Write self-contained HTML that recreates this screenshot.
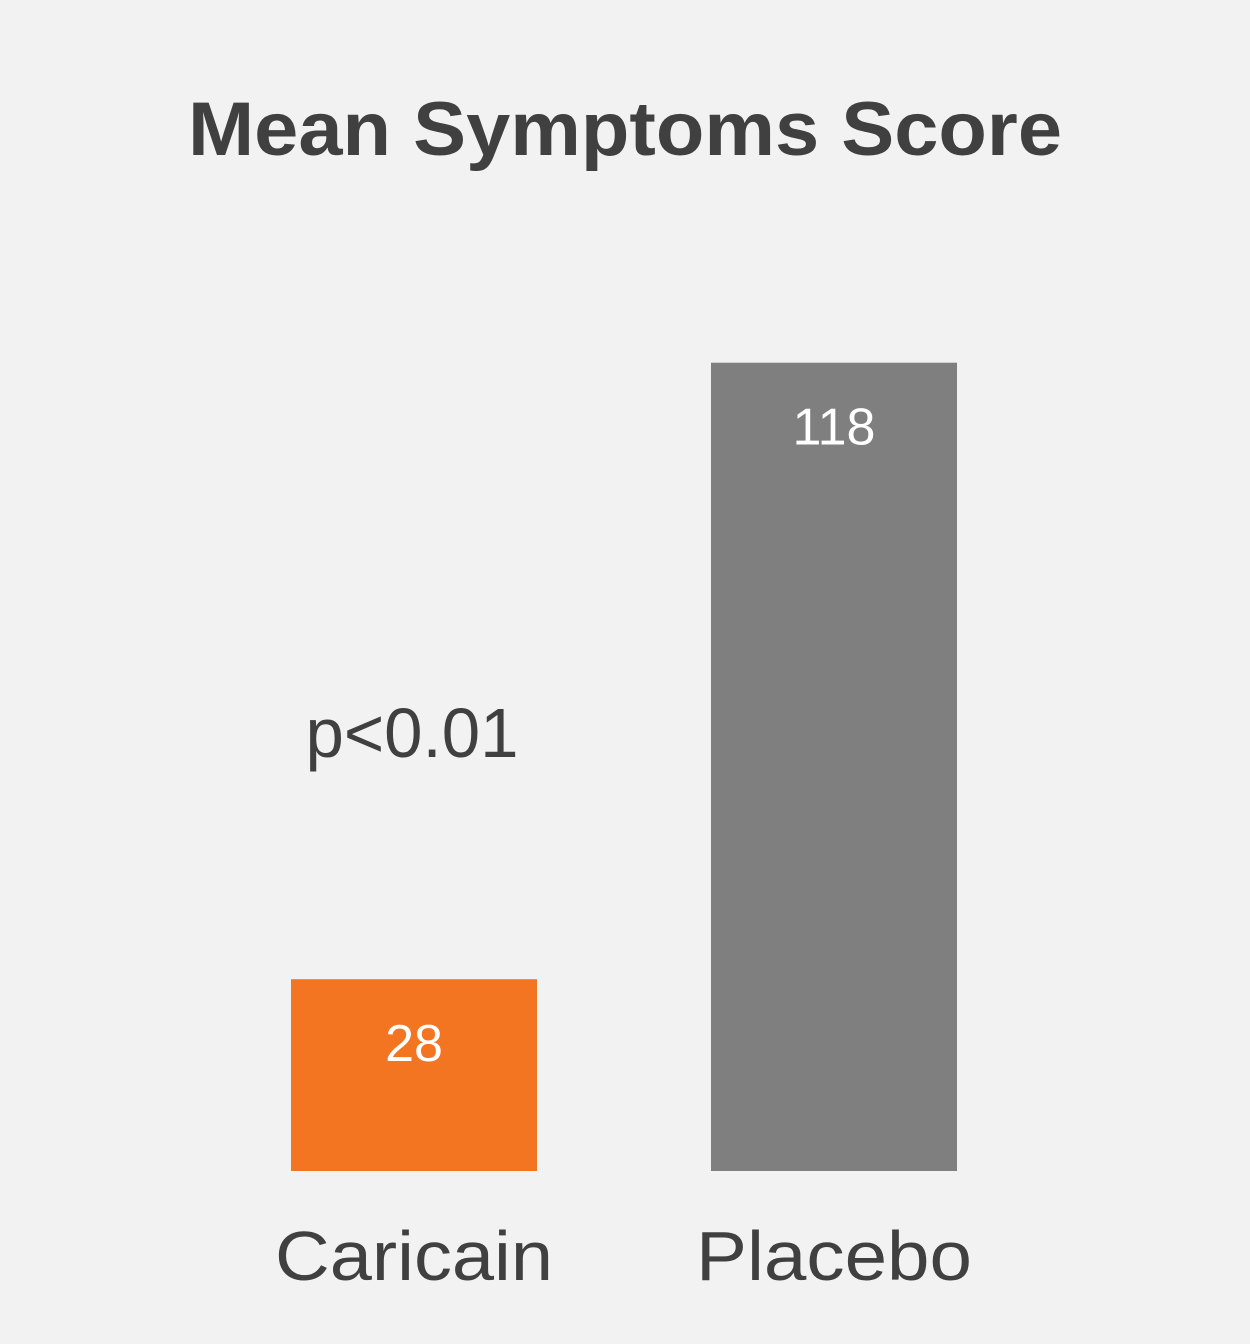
<!DOCTYPE html>
<html><head><meta charset="utf-8"><style>
html,body{margin:0;padding:0;background:#f2f2f2;}
svg{display:block;font-family:"Liberation Sans",sans-serif;}
</style></head><body>
<svg width="1250" height="1344" viewBox="0 0 1250 1344">
<rect width="1250" height="1344" fill="#f2f2f2"/>
<text x="625" y="155" text-anchor="middle" font-size="76" font-weight="bold" fill="#404040" textLength="874" lengthAdjust="spacingAndGlyphs">Mean Symptoms Score</text>
<text x="412" y="757" text-anchor="middle" font-size="70" fill="#404040" textLength="213" lengthAdjust="spacingAndGlyphs">p&lt;0.01</text>
<g id="bars"></g>
</svg>
<script>
const categories = ["Caricain", "Placebo"];
const values = [28, 118];
const colors = ["#f47521", "#7f7f7f"];
const baseline = 1171, pxPerUnit = 6.85, barW = 246;
const centers = [414, 834];
const labelWidths = [278, 276];
function yScale(v){ return baseline - v * pxPerUnit; }
const g = document.getElementById('bars');
const NS = "http://www.w3.org/2000/svg";
categories.forEach((c, i) => {
  const r = document.createElementNS(NS, 'rect');
  r.setAttribute('x', centers[i] - barW/2);
  r.setAttribute('y', yScale(values[i]));
  r.setAttribute('width', barW);
  r.setAttribute('height', baseline - yScale(values[i]));
  r.setAttribute('fill', colors[i]);
  
  
  g.appendChild(r);
  const t = document.createElementNS(NS, 'text');
  t.setAttribute('x', centers[i]);
  t.setAttribute('y', yScale(values[i]) + 82);
  t.setAttribute('text-anchor', 'middle');
  t.setAttribute('font-size', '52');
  t.setAttribute('fill', '#ffffff');
  t.textContent = values[i];
  
  
  g.appendChild(t);
  const l = document.createElementNS(NS, 'text');
  l.setAttribute('x', centers[i]);
  l.setAttribute('y', 1280);
  l.setAttribute('text-anchor', 'middle');
  l.setAttribute('font-size', '70');
  l.setAttribute('fill', '#404040');
  l.setAttribute('textLength', labelWidths[i]);
  l.setAttribute('lengthAdjust', 'spacingAndGlyphs');
  l.textContent = c;
  
  
  g.appendChild(l);
});
</script>
</body></html>
